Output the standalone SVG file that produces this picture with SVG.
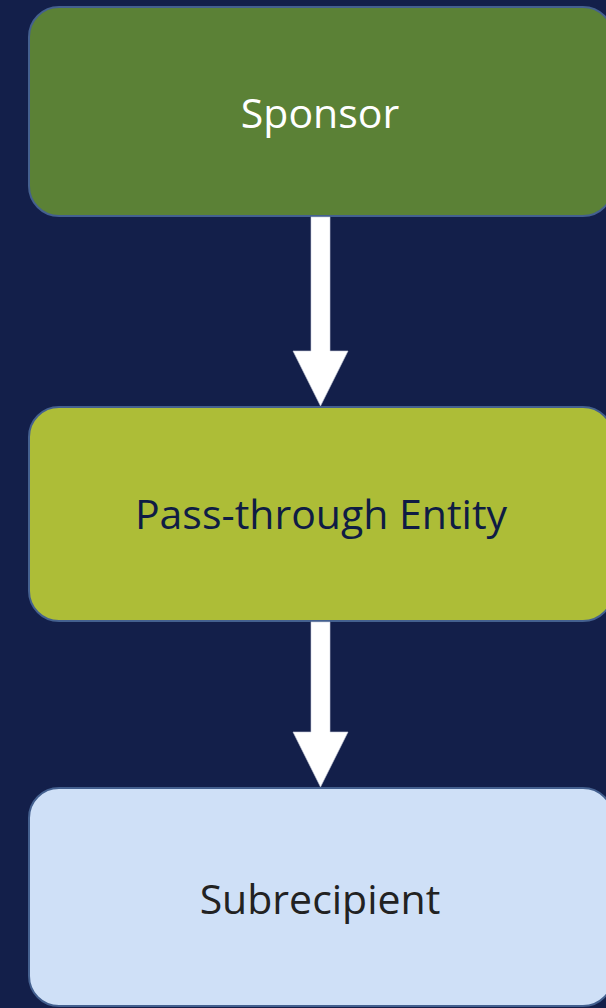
<svg xmlns="http://www.w3.org/2000/svg" width="606" height="1008" viewBox="0 0 606 1008">
<style>
.box{stroke:#44608f;stroke-width:2}
.lbl{font-family:"Open Sans","Noto Sans",sans-serif;font-size:41px;text-anchor:middle}
.arrow{fill:#ffffff;stroke:#c9cfdc;stroke-width:0.6}
</style>
<rect x="0" y="0" width="606" height="1008" fill="#131f4a"/>
<g id="sponsor">
<rect class="box" x="29" y="7" width="584" height="209" rx="30" fill="#5b8136"/>
<text class="lbl" x="320" y="128" fill="#ffffff">Sponsor</text>
</g>
<g id="pass-through">
<rect class="box" x="29" y="407" width="584" height="214" rx="30" fill="#adbd37"/>
<text class="lbl" x="321" y="529" fill="#0f1c44">Pass-through Entity</text>
</g>
<g id="subrecipient">
<rect class="box" x="29" y="788" width="584" height="218" rx="30" fill="#cfe0f7"/>
<text class="lbl" x="320" y="914" fill="#222222">Subrecipient</text>
</g>
<g id="connectors">
<path class="arrow" d="M311,217 L330,217 L330,351 L348,351 L320.5,406 L293,351 L311,351 Z"/>
<path class="arrow" d="M311,622 L330,622 L330,732 L348,732 L320.5,787 L293,732 L311,732 Z"/>
</g>
</svg>
